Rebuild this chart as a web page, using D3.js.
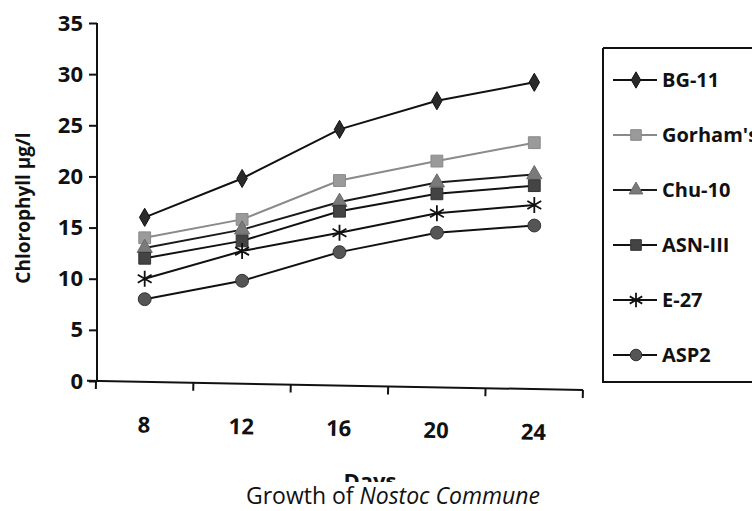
<!DOCTYPE html>
<html>
<head>
<meta charset="utf-8">
<script src="https://cdn.jsdelivr.net/npm/d3@7/dist/d3.min.js"></script>
<style>
  html, body { margin: 0; padding: 0; background: #fff; }
  svg { display: block; }
  text { font-family: "Open Sans", "Noto Sans", sans-serif; fill: #111; }
</style>
</head>
<body>
<svg id="chart" width="752" height="511"></svg>
<script>
const days = ["8", "12", "16", "20", "24"];
const yTicks = [0, 5, 10, 15, 20, 25, 30, 35];
const seriesNames = ["BG-11", "Gorham's", "Chu-10", "ASN-III", "E-27", "ASP2"];
const bg11    = [16.0, 19.8, 24.6, 27.4, 29.2];
const gorhams = [14.0, 15.8, 19.6, 21.5, 23.3];
const chu10   = [13.0, 14.8, 17.5, 19.4, 20.2];
const asn3    = [12.0, 13.7, 16.6, 18.3, 19.1];
const e27     = [10.0, 12.7, 14.5, 16.4, 17.2];
const asp2    = [ 8.0,  9.8, 12.6, 14.5, 15.2];
const seriesValues = [bg11, gorhams, chu10, asn3, e27, asp2];

const styles = [
  { sym: d3.symbolDiamond, size: 95,  fill: "#2a2a2a", stroke: "#111", line: "#111" },
  { sym: d3.symbolSquare,  size: 140, fill: "#9a9a9a", stroke: "#8a8a8a", line: "#8a8a8a" },
  { sym: d3.symbolTriangle,size: 100, fill: "#7a7a7a", stroke: "#6a6a6a", line: "#1a1a1a" },
  { sym: d3.symbolSquare,  size: 140, fill: "#444", stroke: "#333", line: "#111" },
  { sym: "asterisk",       size: 0,   fill: "none", stroke: "#111", line: "#111" },
  { sym: d3.symbolCircle,  size: 130, fill: "#555", stroke: "#333", line: "#111" }
];

const svg = d3.select("#chart");
const x = d3.scaleBand().domain(days).range([96, 583]).paddingInner(0).paddingOuter(0);
const y = d3.scaleLinear().domain([0, 35]).range([381, 23]);

function drawMarker(g, st, cx, cy, scale) {
  const k = scale || 1;
  if (st.sym === "asterisk") {
    const r = 8 * k;
    const p = d3.path();
    for (let a = 0; a < 6; a++) {
      const ang = a * Math.PI / 3 + Math.PI / 2;
      p.moveTo(cx, cy);
      p.lineTo(cx + r * Math.cos(ang), cy + r * Math.sin(ang));
    }
    g.append("path").attr("d", p.toString()).attr("stroke", st.stroke)
      .attr("stroke-width", 1.8).attr("fill", "none");
  } else {
    g.append("path")
      .attr("d", d3.symbol().type(st.sym).size(st.size * k * k)())
      .attr("transform", `translate(${cx},${cy})`)
      .attr("fill", st.fill).attr("stroke", st.stroke).attr("stroke-width", 1);
  }
}

// Y axis
const yAxis = svg.append("g").attr("transform", "translate(97,0)")
  .call(d3.axisLeft(y).tickValues(yTicks).tickSize(8).tickPadding(6).tickFormat(d3.format("d")));
yAxis.select(".domain").attr("stroke", "#111").attr("stroke-width", 2).attr("d", "M0,23V381");
yAxis.selectAll(".tick line").attr("stroke", "#111").attr("stroke-width", 2);
yAxis.selectAll(".tick text").attr("font-size", 22).attr("font-weight", 700)
  .attr("font-family", "'Open Sans', sans-serif").attr("fill", "#111");

// X axis (slightly tilted, as in the scan)
const xg = svg.append("g").attr("transform", "rotate(1.06,96,381) translate(0,381)");
const xAxis = xg.append("g")
  .call(d3.axisBottom(x).tickSize(0).tickPadding(35));
xAxis.select(".domain").attr("stroke", "#111").attr("stroke-width", 2).attr("d", "M87,0H583");
xAxis.selectAll(".tick text").attr("font-size", 22).attr("font-weight", 700)
  .attr("font-family", "'Open Sans', sans-serif").attr("fill", "#111");
const bounds = days.map(d => x(d)).concat([x(days[days.length - 1]) + x.bandwidth()]);
xg.selectAll("line.bt").data(bounds).join("line").attr("class", "bt")
  .attr("x1", d => d).attr("x2", d => d).attr("y1", 0).attr("y2", 8)
  .attr("stroke", "#111").attr("stroke-width", 2);

// Days label, clipped as in the reference
svg.append("defs").append("clipPath").attr("id", "clipDays")
  .append("rect").attr("x", 0).attr("y", 0).attr("width", 752).attr("height", 482);
svg.append("text").attr("clip-path", "url(#clipDays)")
  .attr("x", 370).attr("y", 489).attr("text-anchor", "middle")
  .attr("font-size", 22).attr("font-weight", 700).text("Days");

// Y axis title
svg.append("text").attr("transform", "translate(30,208) rotate(-90)")
  .attr("text-anchor", "middle").attr("font-size", 19).attr("font-weight", 700)
  .text("Chlorophyll µg/l");

// Lines and markers
const line = d3.line().x((d, i) => x(days[i]) + x.bandwidth() / 2).y(d => y(d));
seriesValues.forEach((vals, si) => {
  const st = styles[si];
  svg.append("path").datum(vals).attr("d", line)
    .attr("fill", "none").attr("stroke", st.line).attr("stroke-width", 2);
});
seriesValues.forEach((vals, si) => {
  const st = styles[si];
  const g = svg.append("g");
  vals.forEach((v, i) => drawMarker(g, st, x(days[i]) + x.bandwidth() / 2, y(v), 1));
});

// Legend
const lg = svg.append("g");
lg.append("path").attr("d", "M603,48H760 M603,48V382H760")
  .attr("fill", "none").attr("stroke", "#111").attr("stroke-width", 2);
const legendY = d3.scalePoint().domain(seriesNames).range([80, 355]);
seriesNames.forEach((name, si) => {
  const st = styles[si];
  const cy = legendY(name);
  lg.append("line").attr("x1", 613).attr("x2", 657).attr("y1", cy).attr("y2", cy)
    .attr("stroke", st.line).attr("stroke-width", 2);
  drawMarker(lg, st, 636, cy, 0.9);
  lg.append("text").attr("x", 662).attr("y", cy).attr("dy", "0.36em")
    .attr("font-size", 20).attr("font-weight", 700).text(name);
});

// Caption
const cap = svg.append("text").attr("x", 393).attr("y", 504).attr("text-anchor", "middle")
  .attr("font-size", 23).attr("fill", "#222");
cap.append("tspan").text("Growth of ");
cap.append("tspan").attr("font-style", "italic").text("Nostoc Commune");
</script>
</body>
</html>
